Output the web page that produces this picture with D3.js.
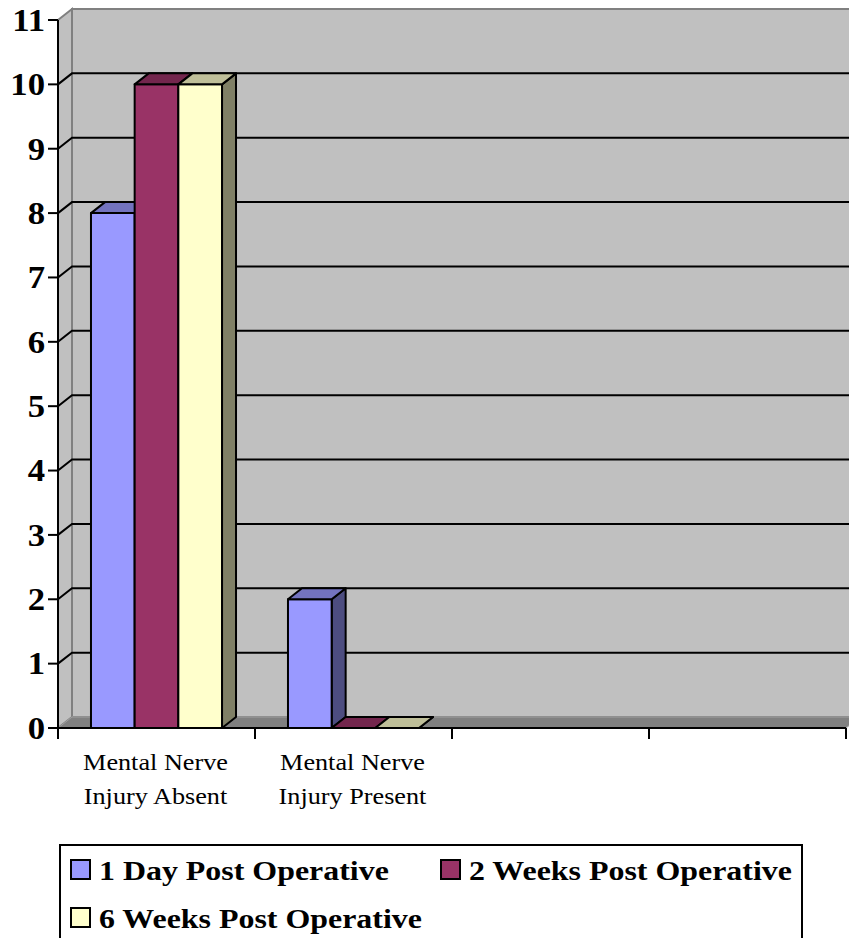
<!DOCTYPE html>
<html><head><meta charset="utf-8">
<script src="https://cdn.jsdelivr.net/npm/d3@7"></script>
<style>html,body{margin:0;padding:0;background:#fff;}</style>
</head><body>
<svg id="chart" width="849" height="938"></svg>
<script>
const categories = [["Mental Nerve","Injury Absent"],["Mental Nerve","Injury Present"],[],[]];
const seriesNames = ["1 Day Post Operative","2 Weeks Post Operative","6 Weeks Post Operative"];
const day1 = [8, 2];
const week2 = [10, 0];
const week6 = [10, 0];
const yTicks = [0,1,2,3,4,5,6,7,8,9,10,11];
const colors = ["#9999FF","#993366","#FFFFCC"];

const series = [day1, week2, week6];
const svg = d3.select("#chart");
const FONT = "'Liberation Serif','Times New Roman',Times,serif";
const SX = 1.14;
const DX = 14, DY = -11;
const x0 = 58, x1 = 846;
const y = d3.scaleLinear().domain([0, 11]).range([728, 20]);
const xCat = d3.scaleBand().domain(d3.range(categories.length)).range([x0, x1]).padding(0);
const xSer = d3.scaleBand().domain(d3.range(series.length))
  .range([0, xCat.bandwidth()]).paddingOuter(0.755).paddingInner(0);

const shade = (c, k) => { const r = d3.rgb(c); return d3.rgb(r.r*k, r.g*k, r.b*k).formatHex(); };
const poly = pts => "M" + pts.map(p => p.join(",")).join("L") + "Z";

const yTop = y(11), yBot = y(0);
// back wall
svg.append("path").attr("d", poly([[x0+DX, yTop+DY],[x1+DX, yTop+DY],[x1+DX, yBot+DY],[x0+DX, yBot+DY]]))
  .attr("fill", "#C0C0C0").attr("stroke", "#808080").attr("stroke-width", 2);
// side wall
svg.append("path").attr("d", poly([[x0, yTop],[x0+DX, yTop+DY],[x0+DX, yBot+DY],[x0, yBot]]))
  .attr("fill", "#C0C0C0").attr("stroke", "#808080").attr("stroke-width", 2);
// floor
svg.append("path").attr("d", poly([[x0, yBot],[x0+DX, yBot+DY],[x1+DX, yBot+DY],[x1, yBot]]))
  .attr("fill", "#808080").attr("stroke", "#A0A0A0").attr("stroke-width", 1);

// gridlines
yTicks.filter(v => v > 0 && v < 11).forEach(v => {
  svg.append("path")
    .attr("d", `M${x0},${y(v)}L${x0+DX},${y(v)+DY}L${x1+DX+20},${y(v)+DY}`)
    .attr("fill", "none").attr("stroke", "#000").attr("stroke-width", 2);
});

// bars
const bars = svg.append("g");
categories.forEach((cat, ci) => {
  series.forEach((s, si) => {
    if (s[ci] === undefined) return;
    const bx = xCat(ci) + xSer(si), bw = xSer.bandwidth();
    const ty = y(s[ci]), by = y(0);
    const c = colors[si];
    const g = bars.append("g").attr("stroke", "#000").attr("stroke-width", 2).attr("stroke-linejoin", "round");
    g.append("path").attr("d", poly([[bx+bw, ty],[bx+bw+DX, ty+DY],[bx+bw+DX, by+DY],[bx+bw, by]]))
      .attr("fill", shade(c, 0.5));
    if (by - ty > 0.5)
      g.append("path").attr("d", poly([[bx, ty],[bx+bw, ty],[bx+bw, by],[bx, by]])).attr("fill", c);
    g.append("path").attr("d", poly([[bx, ty],[bx+DX, ty+DY],[bx+bw+DX, ty+DY],[bx+bw, ty]]))
      .attr("fill", shade(c, 0.75));
  });
});

// y axis
svg.append("line").attr("x1", x0).attr("x2", x0).attr("y1", yTop).attr("y2", yBot)
  .attr("stroke", "#000").attr("stroke-width", 2);
const yAx = svg.append("g");
yTicks.forEach(v => {
  yAx.append("line").attr("x1", x0-10).attr("x2", x0).attr("y1", y(v)).attr("y2", y(v))
    .attr("stroke", "#000").attr("stroke-width", 2);
  yAx.append("text").attr("transform", `translate(45,${y(v)}) scale(1.12,1)`).attr("dy", "0.35em")
    .attr("text-anchor", "end").attr("font-family", FONT)
    .attr("font-weight", "bold").attr("font-size", 31).text(v);
});

// x axis
svg.append("line").attr("x1", x0).attr("x2", x1).attr("y1", yBot).attr("y2", yBot)
  .attr("stroke", "#000").attr("stroke-width", 2);
d3.range(categories.length + 1).forEach(i => {
  const tx = x0 + i * xCat.bandwidth();
  svg.append("line").attr("x1", tx).attr("x2", tx).attr("y1", yBot).attr("y2", yBot + 11)
    .attr("stroke", "#000").attr("stroke-width", 2);
});
categories.forEach((cat, ci) => {
  const cx = xCat(ci) + xCat.bandwidth()/2 - 1;
  const t = svg.append("text").attr("text-anchor", "middle")
    .attr("transform", `translate(${cx},0) scale(${SX},1)`)
    .attr("font-family", FONT).attr("font-size", 23);
  cat.forEach((line, li) => {
    t.append("tspan").attr("x", 0).attr("y", 770 + li * 34).text(line);
  });
});

// legend
const lg = svg.append("g");
lg.append("rect").attr("x", 60).attr("y", 845).attr("width", 742).attr("height", 130)
  .attr("fill", "#fff").attr("stroke", "#000").attr("stroke-width", 2);
const legPos = [[71, 880], [441, 880], [71, 928]];
seriesNames.forEach((name, i) => {
  const [lx, ly] = legPos[i];
  lg.append("rect").attr("x", lx).attr("y", ly - 20).attr("width", 19).attr("height", 19)
    .attr("fill", colors[i]).attr("stroke", "#000").attr("stroke-width", 2);
  lg.append("text").attr("transform", `translate(${lx + 28},${ly}) scale(${SX},1)`)
    .attr("font-family", FONT)
    .attr("font-weight", "bold").attr("font-size", 28).text(name);
});
</script>
</body></html>
